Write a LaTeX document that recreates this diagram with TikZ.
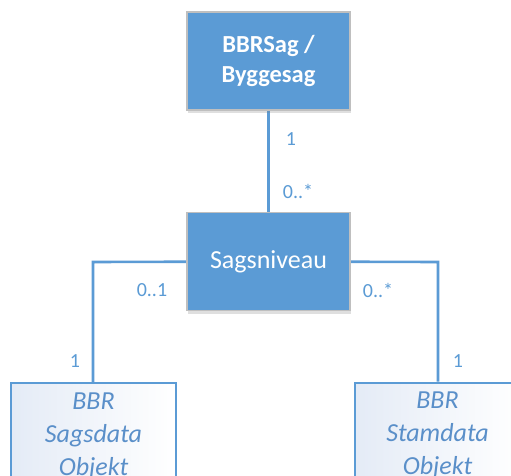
\documentclass[tikz,border=0pt]{standalone}
\usepackage{fontspec}
\setmainfont{Carlito}
\usetikzlibrary{shadows}
\definecolor{officeblue}{HTML}{5B9BD5}
\definecolor{edgegrey}{HTML}{BFBFBF}
\definecolor{objtext}{HTML}{5A8FC9}
\definecolor{objfill}{HTML}{E4EBF6}
\tikzset{
  x=1pt, y=1pt,
  classbox/.style={draw=edgegrey, line width=1.5pt, fill=officeblue, text=white,
    minimum width=163pt, minimum height=98pt, inner sep=0pt, align=center,
    drop shadow={shadow xshift=1pt, shadow yshift=-3pt, opacity=0.25, fill=gray}},
  objbox/.style={draw=officeblue, line width=2pt, text=objtext,
    left color=objfill, right color=white,
    minimum width=165pt, minimum height=106pt, inner sep=0pt, align=center,
    font=\fontsize{26}{33}\selectfont\itshape},
  conn/.style={draw=officeblue, line width=2.6pt},
  mult/.style={text=officeblue, font=\fontsize{20}{24}\selectfont, inner sep=0pt}
}
\begin{document}
\begin{tikzpicture}
\useasboundingbox (0,0) rectangle (511,-476);
\clip (0,0) rectangle (511,-476);
\fill[white] (0,0) rectangle (511,-476);
\coordinate (top) at (268.5,-61);
\coordinate (mid) at (268.5,-261.5);
\coordinate (lcorner) at (93,-262);
\coordinate (rcorner) at (438,-262);
\node[objbox] (left) at (93.5,-436) {BBR\\Sagsdata\\Objekt};
\node[objbox] (right) at (437.5,-435.5) {BBR\\Stamdata\\Objekt};
\draw[conn] (top) -- (mid);
\draw[conn] (mid) -- (lcorner) -- (left.north -| lcorner);
\draw[conn] (mid) -- (rcorner) -- (right.north -| rcorner);
\node[classbox, font=\fontsize{24.5}{30}\selectfont\bfseries] (bbrsag) at (top) {BBRSag /\\Byggesag};
\node[classbox, font=\fontsize{26}{30}\selectfont] (sagsniveau) at (mid) {Sagsniveau};
% multiplicities
\node[mult] (m1) at (291,-139) {1};
\node[mult] (m2) at (298,-191) {0..*};
\node[mult] (m3) at (152,-290) {0..1};
\node[mult] (m4) at (378,-290) {0..*};
\node[mult] (m5) at (75,-361) {1};
\node[mult] (m6) at (458,-361) {1};
\end{tikzpicture}
\end{document}
